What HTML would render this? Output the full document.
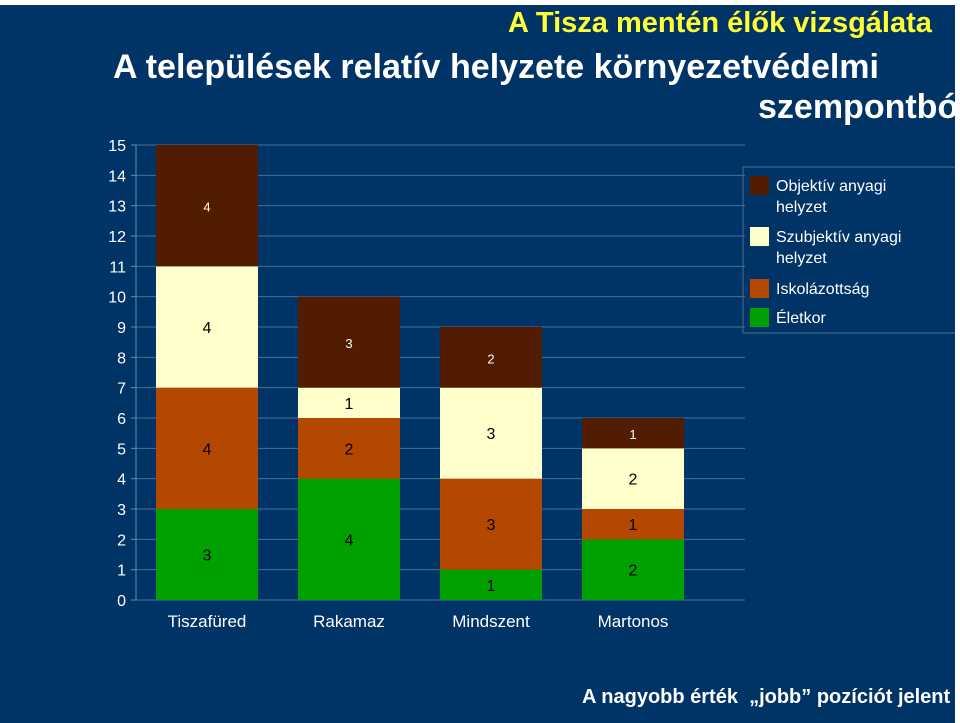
<!DOCTYPE html>
<html><head><meta charset="utf-8"><style>
body{margin:0;background:#fff;width:960px;height:723px;overflow:hidden;font-family:"Liberation Sans",sans-serif}
#slide{position:absolute;left:0;top:5px;width:955px;height:718px;background:#003366;overflow:hidden}
.t{position:absolute;white-space:nowrap;font-weight:bold}
</style></head><body>
<div id="slide">
<div class="t" style="left:508px;top:2px;font-size:29px;color:#ffff33">A Tisza mentén élők vizsgálata</div>
<div class="t" style="left:113px;top:43px;font-size:34px;color:#fff">A települések relatív helyzete környezetvédelmi</div>
<div class="t" style="left:758px;top:83px;font-size:34px;color:#fff">szempontból</div>
<div class="t" style="left:582px;top:681px;font-size:20px;color:#fff">A nagyobb érték &nbsp;„jobb” pozíciót jelent</div>
<svg id="chart" width="955" height="718" style="position:absolute;left:0;top:-5px"></svg>
</div>
<script>
const categories=["Tiszafüred","Rakamaz","Mindszent","Martonos"];
const seriesNames=["Életkor","Iskolázottság","Szubjektív anyagi helyzet","Objektív anyagi helyzet"];
const eletkor=[3,4,1,2];
const iskolazottsag=[4,2,3,1];
const szubjektiv=[4,1,3,2];
const objektiv=[4,3,2,1];
const yTicks=[0,1,2,3,4,5,6,7,8,9,10,11,12,13,14,15];
const series=[eletkor,iskolazottsag,szubjektiv,objektiv];
const colors=["#00a000","#b44800","#ffffcc","#521c00"];
const textColors=["#000","#000","#000","#fff"];
const ns="http://www.w3.org/2000/svg";
const svg=document.getElementById('chart');
const x0=136,x1=745,y0=600,yTop=145,ymax=15;
const y=v=>y0-(v/ymax)*(y0-yTop);
const bw=(x1-x0)/4.3;
const cx=i=>x0+ (x1-x0)/4.3*(i+0.5)+ (i*0);
function el(t,a){const e=document.createElementNS(ns,t);for(const k in a)e.setAttribute(k,a[k]);svg.appendChild(e);return e;}
const step=142;
const catX=i=>207+i*step;
yTicks.forEach(t=>{
 const g=el('line',{x1:x0,x2:x1,y1:y(t),y2:y(t),stroke:'#4a7090','stroke-width':1});
 
 
 const tk=el('line',{x1:x0-5,x2:x0,y1:y(t),y2:y(t),stroke:'#6a8aa8'});
 
 
 const tx=el('text',{x:x0-10,y:y(t)+6,'text-anchor':'end',fill:'#fff','font-size':16});
 tx.textContent=t;
 
 
});
const ax=el('line',{x1:x0,x2:x0,y1:yTop,y2:y0,stroke:'#6a8aa8'});


categories.forEach((c,i)=>{
 let acc=0;
 series.forEach((s,k)=>{
  const v=s[i];
  const r=el('rect',{x:catX(i)-51,y:y(acc+v),width:102,height:y(acc)-y(acc+v),fill:colors[k]});
  
  
  const lt=el('text',{x:catX(i),y:(y(acc)+y(acc+v))/2+6,'text-anchor':'middle',fill:textColors[k],'font-size':(k==3||(i==0&&k==3))?13:16});
  lt.textContent=v;
  
  
  acc+=v;
 });
 const cl=el('text',{x:catX(i),y:627,'text-anchor':'middle',fill:'#fff','font-size':17});
 cl.textContent=c;
 
 
});
// legend
const lg=el('rect',{x:743,y:167,width:230,height:166,fill:'none',stroke:'#4a7090'});


const legendItems=[[3,["Objektív anyagi","helyzet"],176],[2,["Szubjektív anyagi","helyzet"],227],[1,["Iskolázottság"],279],[0,["Életkor"],308]];
legendItems.forEach(([k,lines,ty])=>{
 const sw=el('rect',{x:750,y:ty,width:19,height:19,fill:colors[k]});
 
 
 lines.forEach((ln,j)=>{
  const t=el('text',{x:776,y:ty+15+j*21,fill:'#fff','font-size':16});
  t.textContent=ln;
  
  
 });
});
</script>
</body></html>
